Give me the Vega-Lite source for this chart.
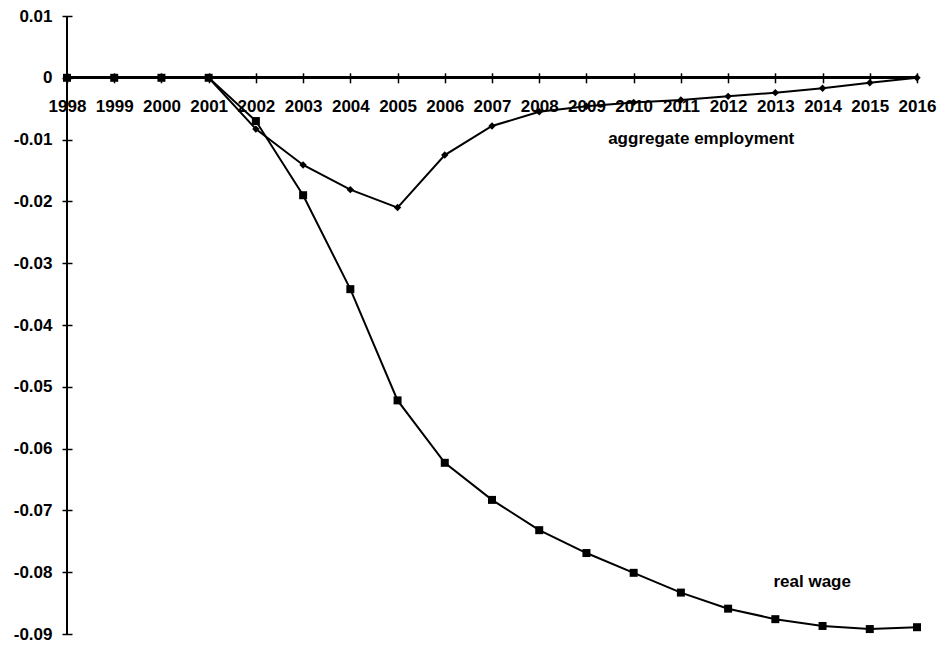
{
  "$schema": "https://vega.github.io/schema/vega-lite/v6.json",
  "width": 850,
  "height": 618,
  "autosize": {"type": "none"},
  "padding": {"left": 67, "top": 16, "right": 22, "bottom": 12},
  "background": "white",
  "config": {
    "view": {"stroke": null},
    "font": "Liberation Sans",
    "axis": {"labelFont": "Liberation Sans", "labelFontWeight": "bold", "labelFontSize": 17, "labelColor": "black", "tickColor": "black", "tickWidth": 1.5, "grid": false, "domain": false, "title": null}
  },
  "datasets": {
    "series": [
      {"year": 1998, "series": "aggregate employment", "value": 0},
      {"year": 1999, "series": "aggregate employment", "value": 0},
      {"year": 2000, "series": "aggregate employment", "value": 0},
      {"year": 2001, "series": "aggregate employment", "value": 0},
      {"year": 2002, "series": "aggregate employment", "value": -0.0083},
      {"year": 2003, "series": "aggregate employment", "value": -0.0141},
      {"year": 2004, "series": "aggregate employment", "value": -0.0181},
      {"year": 2005, "series": "aggregate employment", "value": -0.0210},
      {"year": 2006, "series": "aggregate employment", "value": -0.0125},
      {"year": 2007, "series": "aggregate employment", "value": -0.0078},
      {"year": 2008, "series": "aggregate employment", "value": -0.0055},
      {"year": 2009, "series": "aggregate employment", "value": -0.0046},
      {"year": 2010, "series": "aggregate employment", "value": -0.0040},
      {"year": 2011, "series": "aggregate employment", "value": -0.0036},
      {"year": 2012, "series": "aggregate employment", "value": -0.0030},
      {"year": 2013, "series": "aggregate employment", "value": -0.0024},
      {"year": 2014, "series": "aggregate employment", "value": -0.0017},
      {"year": 2015, "series": "aggregate employment", "value": -0.0008},
      {"year": 2016, "series": "aggregate employment", "value": 0},
      {"year": 1998, "series": "real wage", "value": 0},
      {"year": 1999, "series": "real wage", "value": 0},
      {"year": 2000, "series": "real wage", "value": 0},
      {"year": 2001, "series": "real wage", "value": 0},
      {"year": 2002, "series": "real wage", "value": -0.0070},
      {"year": 2003, "series": "real wage", "value": -0.0190},
      {"year": 2004, "series": "real wage", "value": -0.0342},
      {"year": 2005, "series": "real wage", "value": -0.0522},
      {"year": 2006, "series": "real wage", "value": -0.0623},
      {"year": 2007, "series": "real wage", "value": -0.0683},
      {"year": 2008, "series": "real wage", "value": -0.0732},
      {"year": 2009, "series": "real wage", "value": -0.0769},
      {"year": 2010, "series": "real wage", "value": -0.0801},
      {"year": 2011, "series": "real wage", "value": -0.0833},
      {"year": 2012, "series": "real wage", "value": -0.0859},
      {"year": 2013, "series": "real wage", "value": -0.0876},
      {"year": 2014, "series": "real wage", "value": -0.0887},
      {"year": 2015, "series": "real wage", "value": -0.0892},
      {"year": 2016, "series": "real wage", "value": -0.0889}
    ],
    "labels": [
      {"year": 2009.46, "value": -0.0099, "text": "aggregate employment"},
      {"year": 2012.96, "value": -0.0816, "text": "real wage"}
    ]
  },
  "layer": [
    {
      "data": {"name": "series"},
      "mark": {"type": "rule", "color": "black", "strokeWidth": 2},
      "encoding": {
        "y": {"datum": 0, "type": "quantitative", "scale": {"domain": [-0.09, 0.01], "nice": false, "zero": false}}
      }
    },
    {
      "data": {"name": "series"},
      "mark": {"type": "rule", "color": "black", "strokeWidth": 2},
      "encoding": {
        "x": {"datum": 1998, "type": "quantitative"}
      }
    },
    {
      "data": {"name": "series"},
      "mark": {"type": "line", "color": "black", "strokeWidth": 2},
      "encoding": {
        "x": {"field": "year", "type": "quantitative",
          "scale": {"domain": [1998, 2016], "nice": false, "zero": false},
          "axis": {"orient": "bottom", "offset": -561.2, "values": [1998,1999,2000,2001,2002,2003,2004,2005,2006,2007,2008,2009,2010,2011,2012,2013,2014,2015,2016], "format": "d", "tickSize": 10, "labelPadding": 16, "labelFlush": false, "labelOverlap": false}},
        "y": {"field": "value", "type": "quantitative",
          "scale": {"domain": [-0.09, 0.01], "nice": false, "zero": false},
          "axis": {"orient": "left", "offset": -5, "values": [-0.09,-0.08,-0.07,-0.06,-0.05,-0.04,-0.03,-0.02,-0.01,0,0.01], "labelExpr": "datum.value === 0 ? '0' : '' + round(datum.value*100)/100", "tickSize": 10, "labelPadding": 10, "labelFlush": false, "labelOverlap": false}},
        "detail": {"field": "series"}
      }
    },
    {
      "data": {"name": "series"},
      "mark": {"type": "point", "filled": true, "color": "black", "opacity": 1},
      "encoding": {
        "x": {"field": "year", "type": "quantitative"},
        "y": {"field": "value", "type": "quantitative"},
        "shape": {"field": "series", "type": "nominal", "scale": {"domain": ["aggregate employment", "real wage"], "range": ["diamond", "square"]}, "legend": null},
        "size": {"field": "series", "type": "nominal", "scale": {"domain": ["aggregate employment", "real wage"], "range": [55, 64]}, "legend": null}
      }
    },
    {
      "data": {"name": "labels"},
      "mark": {"type": "text", "align": "left", "baseline": "middle", "font": "Liberation Sans", "fontWeight": "bold", "fontSize": 17, "color": "black"},
      "encoding": {
        "x": {"field": "year", "type": "quantitative"},
        "y": {"field": "value", "type": "quantitative"},
        "text": {"field": "text"}
      }
    }
  ]
}
